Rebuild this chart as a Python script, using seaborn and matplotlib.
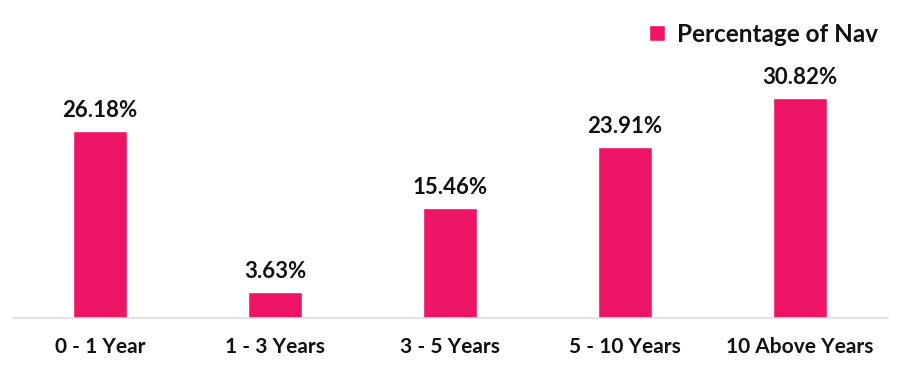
import matplotlib
matplotlib.use('Agg')
import matplotlib.pyplot as plt
import seaborn as sns
import pandas as pd

# chart data
categories = ['0 - 1 Year', '1 - 3 Years', '3 - 5 Years', '5 - 10 Years', '10 Above Years']
values = [26.18, 3.63, 15.46, 23.91, 30.82]
series_name = 'Percentage of Nav'

df = pd.DataFrame({'bucket': categories, 'pct': values})

sns.set_theme(style='white')
plt.rcParams['font.family'] = ['Lato', 'DejaVu Sans']
plt.rcParams['font.weight'] = 'bold'

pink = '#EE1566'

fig = plt.figure(figsize=(9.02, 3.73), dpi=100)
ax = fig.add_axes([12.5 / 902, 55 / 373, 875 / 902, 308 / 373])

sns.barplot(data=df, x='bucket', y='pct', color=pink, width=0.31,
            saturation=1, label=series_name, ax=ax)

ax.set_xlim(-0.5, 4.5)
ax.set_ylim(0, 43.1)

# value labels on top of bars
ax.bar_label(ax.containers[0], labels=[f'{v:.2f}%' for v in values],
             padding=7, fontsize=16, fontweight='bold', color='#111111')

ax.set_xlabel('')
ax.set_ylabel('')
ax.set_yticks([])
ax.tick_params(axis='x', length=0, pad=14, labelsize=15, labelcolor='#111111')
for lbl in ax.get_xticklabels():
    lbl.set_fontweight('bold')

for side in ['top', 'right', 'left']:
    ax.spines[side].set_visible(False)
ax.spines['bottom'].set_color('#DDDDDD')
ax.spines['bottom'].set_linewidth(1.2)

leg = ax.legend(loc='upper right', bbox_to_anchor=(1.014, 1.03), frameon=False,
                handlelength=0.65, handleheight=0.65, handletextpad=0.5,
                prop={'family': 'Lato', 'weight': 'bold', 'size': 17.5})
for t in leg.get_texts():
    t.set_color('#111111')

fig.savefig('out.png', dpi=100)
